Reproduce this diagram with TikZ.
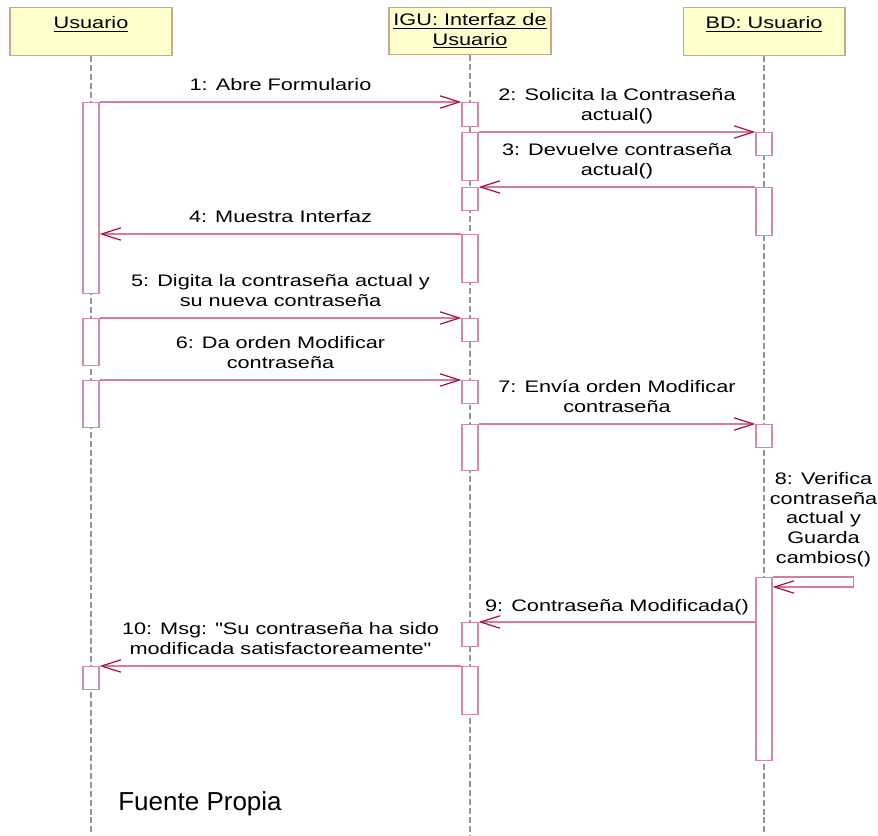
\documentclass[tikz,border=0pt]{standalone}
\usepackage{fontspec}
\setmainfont{Liberation Sans}
\newfontfamily\umlfont[FakeStretch=1.3]{Liberation Sans}
\usetikzlibrary{arrows.meta,calc}
\definecolor{hdrfill}{RGB}{255,255,206}
\definecolor{hdrline}{RGB}{205,165,140}
\definecolor{actline}{RGB}{210,140,165}
\definecolor{msgline}{RGB}{212,125,155}
\definecolor{msgtip}{RGB}{165,20,70}
\definecolor{lifegray}{RGB}{150,150,150}
\tikzset{
  hdr/.style={draw=hdrline, fill=hdrfill, line width=0.6pt, minimum width=3.24cm, inner sep=0pt, anchor=north, align=center, font=\umlfont\fontsize{9.5}{11.3}\selectfont},
  act/.style={draw=actline, fill=white, line width=0.6pt, minimum width=0.32cm, inner sep=0pt, anchor=north},
  life/.style={draw=lifegray, line width=0.6pt, dash pattern=on 3.4pt off 1.7pt},
  msg/.style={draw=msgline, line width=0.6pt, -{Straight Barb[length=11pt,width=7pt,color=msgtip,line width=0.7pt]}},
  lbl/.style={font=\umlfont\fontsize{9.5}{11.3}\selectfont, align=center, inner sep=0pt, text depth=0pt}
}
\begin{document}
\begin{tikzpicture}[x=0.02cm,y=-0.02cm]
\useasboundingbox (0,0) rectangle (878,835);
\coordinate (bot) at (0,835);

\node[hdr, text height=11.9pt, text depth=15.3pt] (usr) at (91,7) {\underline{Usuario}};
\node[hdr, minimum height=0.94cm] (igu) at (470,7) {\underline{IGU: Interfaz de}\\\underline{Usuario}};
\node[hdr, text height=11.9pt, text depth=15.3pt] (bd) at (764,7) {\underline{BD: Usuario}};

\draw[life] (usr.south) -- (usr.south |- bot);
\draw[life] (igu.south) -- (igu.south |- bot);
\draw[life] (bd.south) -- (bd.south |- bot);

\node[act, minimum height=3.82cm] (u1) at (91,102) {};
\node[act, minimum height=0.94cm] (u2) at (91,318) {};
\node[act, minimum height=0.94cm] (u3) at (91,380) {};
\node[act, minimum height=0.46cm] (u4) at (91,666) {};

\node[act, minimum height=0.48cm] (g1) at (470,102) {};
\node[act, minimum height=0.96cm] (g2) at (470,132) {};
\node[act, minimum height=0.46cm] (g3) at (470,187) {};
\node[act, minimum height=0.96cm] (g4) at (470,234) {};
\node[act, minimum height=0.46cm] (g5) at (470,318) {};
\node[act, minimum height=0.46cm] (g6) at (470,380) {};
\node[act, minimum height=0.92cm] (g7) at (470,424) {};
\node[act, minimum height=0.48cm] (g8) at (470,622) {};
\node[act, minimum height=0.96cm] (g9) at (470,666) {};

\node[act, minimum height=0.46cm] (b1) at (764,132) {};
\node[act, minimum height=0.96cm] (b2) at (764,187) {};
\node[act, minimum height=0.46cm] (b3) at (764,424) {};
\node[act, minimum height=3.66cm] (b4) at (764,577) {};

\draw[msg] (u1.north east) -- (g1.north west) node[lbl, midway, above=6.2pt] (l1) {1: Abre Formulario};
\draw[msg] (g2.north east) -- (b1.north west) node[lbl, midway, above=6.2pt] (l2) {2: Solicita la Contraseña\\actual()};
\draw[msg] (b2.north west) -- (g3.north east) node[lbl, midway, above=6.2pt] (l3) {3: Devuelve contraseña\\actual()};
\draw[msg] (g4.north west) -- (g4.north west -| u1.east) node[lbl, midway, above=6.2pt] (l4) {4: Muestra Interfaz};
\draw[msg] (u2.north east) -- (g5.north west) node[lbl, midway, above=6.2pt] (l5) {5: Digita la contraseña actual y\\su nueva contraseña};
\draw[msg] (u3.north east) -- (g6.north west) node[lbl, midway, above=6.2pt] (l6) {6: Da orden Modificar\\contraseña};
\draw[msg] (g7.north east) -- (b3.north west) node[lbl, midway, above=6.2pt] (l7) {7: Envía orden Modificar\\contraseña};
\draw[msg] (b4.north east) -- ++(81,0) -- ++(0,10) -- ++(-81,0);
\node[lbl, anchor=south] (l8) at ($(b4.north east)+(51,-13)$) {8: Verifica\\contraseña\\actual y\\Guarda\\cambios()};
\draw[msg] (g8.north east -| b4.west) -- (g8.north east) node[lbl, midway, above=5.6pt] (l9) {9: Contraseña Modificada()};
\draw[msg] (g9.north west) -- (u4.north east) node[lbl, midway, above=6.2pt] (l10) {10: Msg: "Su contraseña ha sido\\modificada satisfactoreamente"};

\node[font=\fontsize{14.8}{17}\selectfont, anchor=base west, inner sep=0pt] (src) at (118,810) {Fuente Propia};
\end{tikzpicture}
\end{document}
